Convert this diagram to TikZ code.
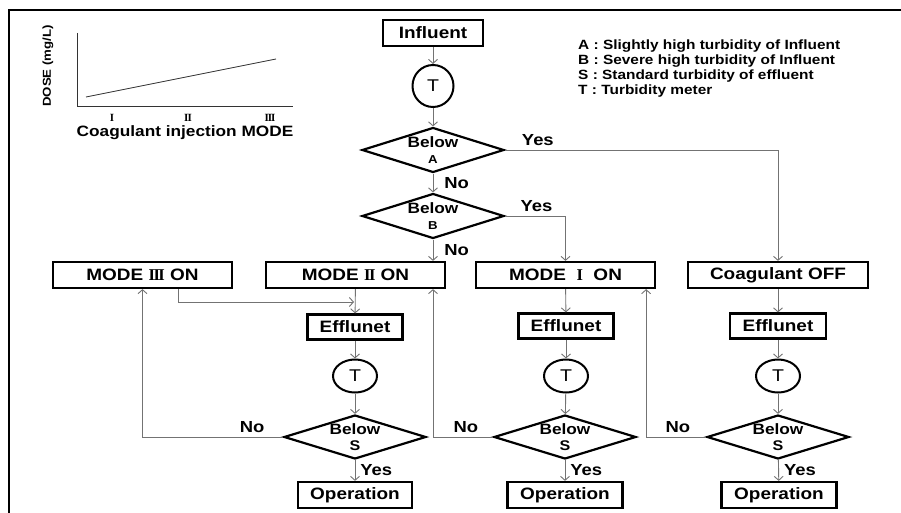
\documentclass[tikz,border=0pt]{standalone}
\usepackage{fontspec}
\setmainfont[FakeStretch=1.15]{Liberation Sans}
\newfontfamily\romfnt{Liberation Serif}
\usetikzlibrary{arrows.meta, positioning, shapes.geometric}

\newcommand{\boxfnt}{\fontsize{16.5}{18}\selectfont\bfseries}
\newcommand{\decfnt}{\fontsize{15}{15.5}\selectfont\bfseries}
\newcommand{\lblfnt}{\fontsize{16}{18}\selectfont\bfseries}
% roman numerals with joined serifs
\newcommand{\rI}{{\romfnt\bfseries I}}
\newcommand{\rII}{{\romfnt\bfseries I\kern-0.09em I}}
\newcommand{\rIII}{{\romfnt\bfseries I\kern-0.09em I\kern-0.09em I}}

\begin{document}
\begin{tikzpicture}[x=1pt, y=-1pt,
  box/.style={draw, line width=2.2pt, minimum height=26pt, inner sep=0pt, font=\boxfnt},
  dec/.style={diamond, aspect=3.2, draw, line width=2.2pt, inner sep=0pt, align=center,
    font=\decfnt, minimum width=142pt, minimum height=44pt},
  meter/.style={ellipse, draw, line width=2pt, inner sep=0pt, minimum width=44pt,
    minimum height=33pt, font=\fontsize{17}{17}\selectfont},
  conn/.style={draw=black!55, line width=0.9pt, -{Straight Barb[length=4pt,width=9pt]}},
  lbl/.style={font=\lblfnt, inner sep=1pt}]
  \useasboundingbox (0,0) rectangle (901,513);
  % ---------- frame ----------
  \draw[line width=2.6pt] (901,10) -- (9,10) -- (9,513);
  % ---------- dose chart ----------
  \draw[line width=0.8pt, black!80] (77,33) -- (77,106) -- (293,106);
  \draw[line width=0.8pt, black!80] (86,97) -- (276,59);
  \node[rotate=90, font=\fontsize{11.5}{12}\selectfont\bfseries] (dose) at (48,66) {DOSE (mg/L)};
  \node[font=\fontsize{11}{11}\selectfont] (ax1) at (112,118) {\rI};
  \node[font=\fontsize{11}{11}\selectfont] (ax2) at (188,118) {\rII};
  \node[font=\fontsize{11}{11}\selectfont] (ax3) at (270,118) {\rIII};
  \node[anchor=base, font=\fontsize{15}{15}\selectfont\bfseries] (axis) at (185,137) {Coagulant injection MODE};
  % ---------- legend ----------
  \node[anchor=north west, align=left, inner sep=0pt, font=\fontsize{13.4}{15}\selectfont\bfseries]
    (legend) at (578,40) {A : Slightly high turbidity of Influent\\B : Severe high turbidity of Influent\\S : Standard turbidity of effluent\\T : Turbidity meter};
  % ---------- top ----------
  \node[box, minimum width=100pt] (infl) at (433,33) {Influent};
  \node[meter, minimum width=41pt, minimum height=42pt] (tin) at (433,86) {T};
  \node[dec, minimum height=45pt] (dA) at (433,150) {Below\\{\fontsize{11.5}{12}\selectfont A}};
  \node[dec, minimum height=45pt] (dB) at (433,216) {Below\\{\fontsize{11.5}{12}\selectfont B}};
  % ---------- modes ----------
  \node[box, minimum width=179pt] (m3) at (142.5,275) {MODE \rIII\ ON};
  \node[box, minimum width=179pt] (m2) at (355.5,275) {MODE \rII\ ON};
  \node[box, minimum width=179pt] (m1) at (565.5,275) {MODE\ \ \rI\ \ ON};
  \node[box, minimum width=180pt] (coff) at (778,275) {Coagulant OFF};
  % ---------- effluent columns ----------
  \node[box, minimum width=95pt, minimum height=25pt] (e2) at (355,327) {Efflunet};
  \node[box, minimum width=95pt, minimum height=25pt] (e1) at (566,326) {Efflunet};
  \node[box, minimum width=96pt, minimum height=25pt] (e0) at (778,326) {Efflunet};
  \node[meter] (t2) at (355,376) {T};
  \node[meter] (t1) at (566,376) {T};
  \node[meter] (t0) at (778,376) {T};
  \node[dec] (s2) at (355,437) {Below\\{\fontsize{14}{14}\selectfont S}};
  \node[dec] (s1) at (565,437) {Below\\{\fontsize{14}{14}\selectfont S}};
  \node[dec] (s0) at (778,437) {Below\\{\fontsize{14}{14}\selectfont S}};
  \node[box, minimum width=114pt] (op2) at (355,495) {Operation};
  \node[box, minimum width=115pt] (op1) at (565,495) {Operation};
  \node[box, minimum width=115pt] (op0) at (779,495) {Operation};
  \coordinate (j2) at (354,302);
  % ---------- connectors ----------
  \draw[conn] (infl) -- (tin);
  \draw[conn] (tin) -- (dA);
  \draw[conn] (dA) -- node[lbl, right=10pt] (noA) {No} (dB);
  \draw[conn] (dA.east) -| node[lbl, pos=0.06, above=3pt] (yesA) {Yes} (coff);
  \draw[conn] (dB.east) -| node[lbl, pos=0.26, above=3pt] (yesB) {Yes} (m1);
  \draw[conn] (dB.south) -- node[lbl, right=10pt] (noB) {No} (dB.south |- m2.north);
  \draw[conn] (m2) -- (e2);
  \draw[conn] ([xshift=36pt]m3.south) |- (j2);
  \draw[conn] (m1) -- (e1);
  \draw[conn] (coff) -- (e0);
  \foreach \c in {0,1,2} {
    \draw[conn] (e\c) -- (t\c);
    \draw[conn] (t\c) -- (s\c);
    \draw[conn] (s\c) -- node[lbl, right=4pt] (yes\c) {Yes} (op\c);
  }
  \draw[conn] (s2.west) -| node[lbl, pos=0.11, above=3pt] (no2) {No} (m3.south);
  \draw[conn] (s1.west) -| node[lbl, pos=0.225, above=3pt] (no1) {No} (dB.south |- m2.south);
  \draw[conn] (s0.west) -| node[lbl, pos=0.234, above=3pt] (no0) {No} ([xshift=-10pt]m1.south east);
\end{tikzpicture}
\end{document}
